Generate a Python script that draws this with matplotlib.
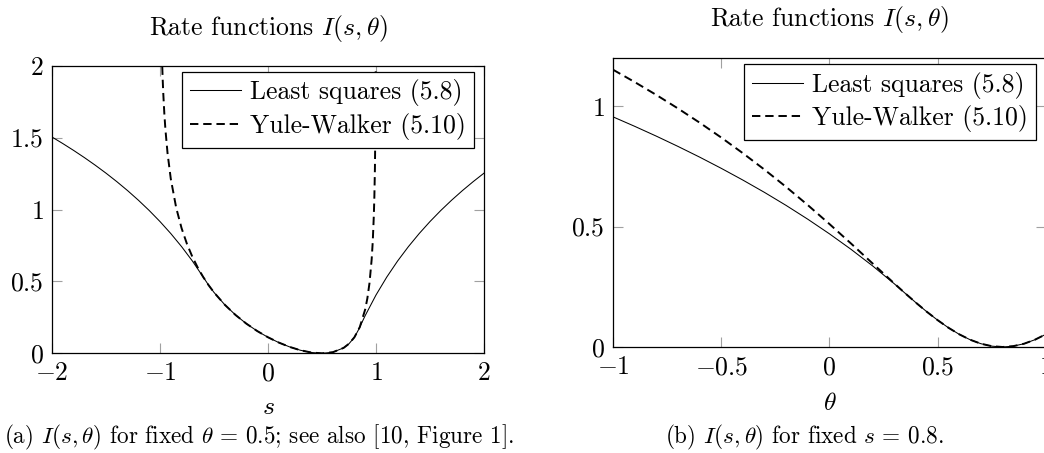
import numpy as np
import matplotlib
matplotlib.use("Agg")
import matplotlib.pyplot as plt

plt.rcParams['font.family'] = 'serif'
plt.rcParams['font.serif'] = ['cmr10']
plt.rcParams['mathtext.fontset'] = 'cm'
plt.rcParams['axes.formatter.use_mathtext'] = True

# (a) theta fixed at 0.5, rate as a function of s
s_ls = [-2.0, -1.9, -1.8, -1.7, -1.6, -1.5, -1.4, -1.3, -1.2, -1.1, -1.0,
        -0.9, -0.8, -0.7, -0.6, -0.55, -0.5, -0.4, -0.3, -0.2, -0.1, 0.0,
        0.1, 0.2, 0.3, 0.4, 0.5, 0.6, 0.7, 0.75, 0.8, 0.843, 0.875, 0.9,
        1.0, 1.1, 1.2, 1.3, 1.4, 1.5, 1.6, 1.7, 1.8, 1.9, 2.0]
I_ls_a = [1.5041, 1.4586, 1.4110, 1.3610, 1.3083, 1.2528, 1.1939, 1.1314,
          1.0647, 0.9933, 0.9163, 0.8329, 0.7419, 0.6419, 0.5306, 0.4740,
          0.4236, 0.3376, 0.2663, 0.2062, 0.1551, 0.1116, 0.0749, 0.0448,
          0.0215, 0.0059, 0.0, 0.0078, 0.0378, 0.0668, 0.1116, 0.1706,
          0.2231, 0.2624, 0.4055, 0.5306, 0.6419, 0.7419, 0.8329, 0.9163,
          0.9933, 1.0647, 1.1314, 1.1939, 1.2528]

s_yw = [-0.99, -0.98, -0.975, -0.97, -0.96, -0.95, -0.93, -0.9, -0.85, -0.8,
        -0.75, -0.7, -0.65, -0.6, -0.55, -0.5, -0.4, -0.3, -0.2, -0.1, 0.0,
        0.1, 0.2, 0.3, 0.4, 0.5, 0.6, 0.7, 0.75, 0.8, 0.85, 0.9, 0.92, 0.94,
        0.96, 0.97, 0.98, 0.985, 0.99, 0.995, 0.998]
I_yw_a = [2.3617, 2.0155, 1.9040, 1.8131, 1.6694, 1.5582, 1.3906, 1.2131,
          1.0120, 0.8697, 0.7599, 0.6706, 0.5954, 0.5307, 0.4740, 0.4236,
          0.3376, 0.2663, 0.2062, 0.1551, 0.1116, 0.0749, 0.0448, 0.0215,
          0.0059, 0.0, 0.0078, 0.0378, 0.0668, 0.1116, 0.1828, 0.3054,
          0.3823, 0.4898, 0.6541, 0.7778, 0.9598, 1.0930, 1.2850, 1.6206,
          2.0721]

# (b) s fixed at 0.8, rate as a function of theta
theta = [-1.0, -0.9, -0.8, -0.7, -0.6, -0.5, -0.4, -0.3, -0.2, -0.1, 0.0,
         0.1, 0.2, 0.3, 0.35, 0.4, 0.45, 0.5, 0.55, 0.6, 0.65, 0.7, 0.75,
         0.8, 0.85, 0.9, 0.95, 1.0]
I_ls_b = [0.9555, 0.9163, 0.8755, 0.8329, 0.7885, 0.7419, 0.6931, 0.6419,
          0.5878, 0.5306, 0.4700, 0.4055, 0.3365, 0.2624, 0.2231, 0.1839,
          0.1464, 0.1116, 0.0800, 0.0527, 0.0303, 0.0137, 0.0035, 0.0,
          0.0035, 0.0137, 0.0303, 0.0527]
I_yw_b = [1.1513, 1.1001, 1.0466, 0.9905, 0.9316, 0.8697, 0.8047, 0.7364,
          0.6646, 0.5893, 0.5108, 0.4296, 0.3466, 0.2637, 0.2231, 0.1839,
          0.1464, 0.1116, 0.0800, 0.0527, 0.0303, 0.0137, 0.0035, 0.0,
          0.0035, 0.0137, 0.0303, 0.0527]

labels = ['Least squares (5.8)', 'Yule-Walker (5.10)']
fs = 18.5


def style(ax, title_pad):
    ax.tick_params(direction='in', top=True, right=True, length=7.5,
                   width=0.8, color='#a0a0a0', labelsize=fs, pad=6)
    for sp in ax.spines.values():
        sp.set_linewidth(0.9)
    ax.set_title(r'Rate functions $I(s,\theta)$', fontsize=fs, pad=title_pad)
    leg = ax.legend(labels, loc='upper right', bbox_to_anchor=(0.977, 0.979),
                    fontsize=fs, fancybox=False, framealpha=1,
                    edgecolor='black', handlelength=2.0, handletextpad=0.35,
                    borderpad=0.3, labelspacing=0.25, borderaxespad=0)
    leg.get_frame().set_linewidth(0.9)


fig = plt.figure(figsize=(10.44, 4.53), dpi=100)
ax1 = fig.add_axes([0.0498, 0.2200, 0.4138, 0.6350])
ax2 = fig.add_axes([0.5872, 0.2340, 0.4145, 0.6380])

ax1.plot(s_ls, I_ls_a, color='black', lw=0.75)
ax1.plot(s_yw, I_yw_a, color='black', lw=1.4, dashes=(4.3, 2.5))
ax1.set_xlim(-2, 2)
ax1.set_ylim(0, 2)
ax1.set_xticks([-2, -1, 0, 1, 2])
ax1.set_xticklabels([r'$-2$', r'$-1$', r'$0$', r'$1$', r'$2$'])
ax1.set_yticks([0, 0.5, 1, 1.5, 2])
ax1.set_yticklabels([r'$0$', r'$0.5$', r'$1$', r'$1.5$', r'$2$'])
ax1.set_xlabel(r'$s$', fontsize=fs, labelpad=7)
style(ax1, 22)

ax2.plot(theta, I_ls_b, color='black', lw=0.75)
ax2.plot(theta, I_yw_b, color='black', lw=1.4, dashes=(4.3, 2.5))
ax2.set_xlim(-1, 1)
ax2.set_ylim(0, 1.2)
ax2.set_xticks([-1, -0.5, 0, 0.5, 1])
ax2.set_xticklabels([r'$-1$', r'$-0.5$', r'$0$', r'$0.5$', r'$1$'])
ax2.set_yticks([0, 0.5, 1])
ax2.set_yticklabels([r'$0$', r'$0.5$', r'$1$'])
ax2.set_xlabel(r'$\theta$', fontsize=fs, labelpad=9)
style(ax2, 23)

fig.text(0.004, 0.021,
         r'(a) $I(s,\theta)$ for fixed $\theta\,=\,0.5$; see also [10, Figure 1].',
         fontsize=16.7, ha='left', va='baseline')
fig.text(0.770, 0.021, r'(b) $I(s,\theta)$ for fixed $s\,=\,0.8$.',
         fontsize=16.7, ha='center', va='baseline')

fig.savefig('out.png', dpi=100)
